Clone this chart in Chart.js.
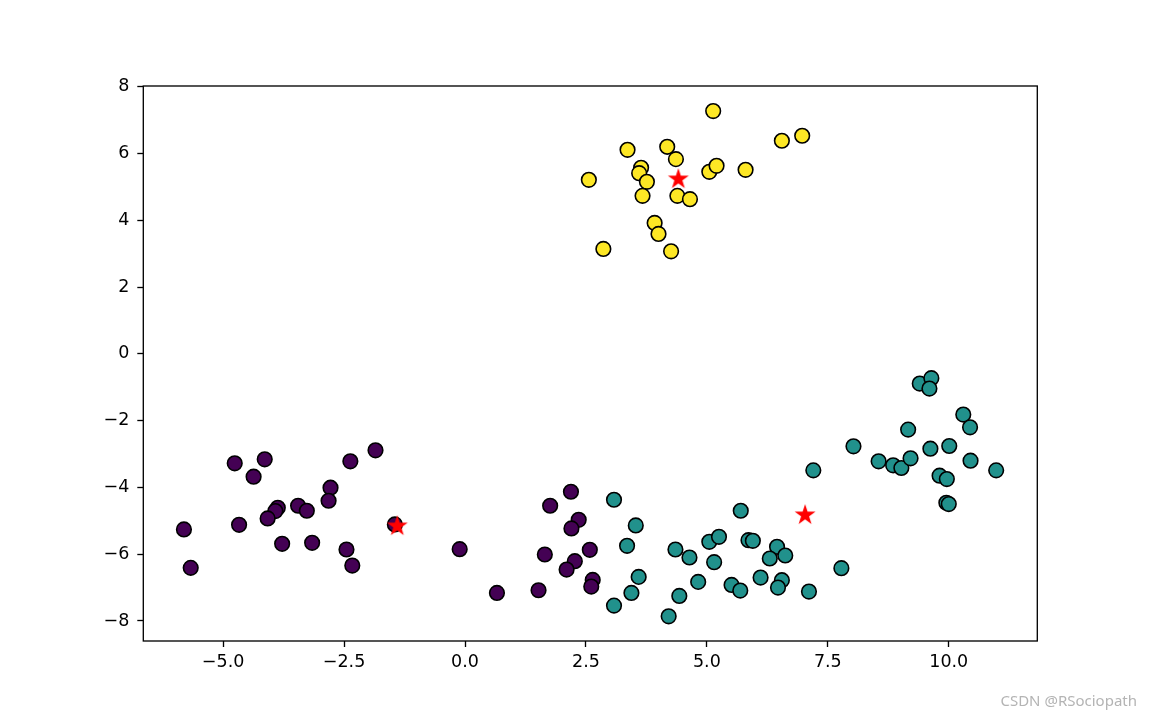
<!DOCTYPE html>
<html>
<head>
<meta charset="utf-8">
<script src="https://cdn.jsdelivr.net/npm/chart.js@4/dist/chart.umd.min.js"></script>
<style>
    html, body { margin: 0; padding: 0; background: #fff; }
    #wrap { position: relative; width: 1152px; height: 720px; }
    #mark {
        position: absolute; right: 15px; bottom: 10px;
        font-family: "Noto Sans", "DejaVu Sans", sans-serif; font-size: 15px; color: #b4b4b4;
    }
</style>
</head>
<body>
<div id="wrap">
    <canvas id="scatter-chart" width="1152" height="720"></canvas>
    <div id="mark">CSDN @RSociopath</div>
</div>
<script>
// cluster 0 (purple)
const purpleX = [-4.76, -4.14, -4.37, -1.85, -2.37, -2.78, -2.82, -3.87, -3.92, -4.08, -3.45, -3.27, -5.81, -4.67, -3.78, -3.16, -2.45,
    -2.33, -5.67, -1.45, -0.11, 0.66, 1.52, 1.76, 2.19, 2.35, 2.20, 1.65, 2.58, 2.27, 2.10, 2.64, 2.61];
const purpleY = [-3.28, -3.16, -3.68, -2.89, -3.22, -4.01, -4.40, -4.61, -4.71, -4.93, -4.55, -4.70, -5.26, -5.12, -5.69, -5.66, -5.86,
    -6.34, -6.41, -5.11, -5.85, -7.16, -7.08, -4.55, -4.13, -4.97, -5.23, -6.01, -5.87, -6.21, -6.46, -6.77, -6.97];

// cluster 1 (teal)
const tealX = [3.08, 3.53, 3.35, 3.59, 3.44, 3.08, 4.35, 4.64, 4.43, 4.21, 4.82,
    5.70, 5.05, 5.25, 5.15, 5.86, 5.95, 6.45, 6.30, 6.62, 6.11, 5.51, 5.69, 6.55, 6.47, 7.11, 7.78,
    7.20, 8.03, 8.55, 8.85, 9.02, 9.21, 9.16, 9.40, 9.64, 9.60, 9.62, 10.01, 10.30, 10.44, 10.45, 9.81, 9.96, 9.95, 10.00, 10.98];
const tealY = [-4.37, -5.14, -5.75, -6.68, -7.16, -7.54, -5.86, -6.10, -7.25, -7.86, -6.83,
    -4.70, -5.63, -5.48, -6.24, -5.58, -5.60, -5.78, -6.13, -6.04, -6.70, -6.92, -7.09, -6.78, -7.00, -7.12, -6.42,
    -3.49, -2.77, -3.22, -3.34, -3.42, -3.13, -2.27, -0.89, -0.73, -1.04, -2.84, -2.76, -1.82, -2.20, -3.20, -3.65, -3.75, -4.46, -4.50, -3.49];

// cluster 2 (yellow)
const yellowX = [5.13, 3.36, 4.18, 4.36, 6.55, 6.97, 2.56, 3.64, 3.60, 3.76, 3.67, 5.05, 5.20, 5.80, 4.39, 4.65, 3.92, 4.00, 2.86, 4.26];
const yellowY = [7.27, 6.11, 6.20, 5.83, 6.38, 6.53, 5.21, 5.57, 5.41, 5.15, 4.73, 5.45, 5.63, 5.51, 4.73, 4.63, 3.92, 3.59, 3.14, 3.07];

// cluster centres
const centerX = [-1.40, 7.03, 4.41];
const centerY = [-5.16, -4.83, 5.23];

const xTicks = [-5, -2.5, 0, 2.5, 5, 7.5, 10];
const xTickLabels = ['\u22125.0', '\u22122.5', '0.0', '2.5', '5.0', '7.5', '10.0'];
const yTicks = [-8, -6, -4, -2, 0, 2, 4, 6, 8];
const yTickLabels = ['\u22128', '\u22126', '\u22124', '\u22122', '0', '2', '4', '6', '8'];

function toPoints(xs, ys) {
    return xs.map((x, i) => ({ x: x, y: ys[i] }));
}

// filled 5-point star like matplotlib's '*' marker
function makeStar(r, color) {
    const size = Math.ceil(r * 2 + 2);
    const c = document.createElement('canvas');
    c.width = size;
    c.height = size;
    const ctx = c.getContext('2d');
    const cx = size / 2, cy = size / 2, inner = r * 0.381966;
    ctx.beginPath();
    for (let i = 0; i < 10; i++) {
        const rad = i % 2 === 0 ? r : inner;
        const a = -Math.PI / 2 + i * Math.PI / 5;
        const px = cx + rad * Math.cos(a), py = cy + rad * Math.sin(a);
        if (i === 0) ctx.moveTo(px, py); else ctx.lineTo(px, py);
    }
    ctx.closePath();
    ctx.fillStyle = color;
    ctx.fill();
    return c;
}

const frame = {
    id: 'frame',
    afterDraw(chart) {
        const a = chart.chartArea;
        const ctx = chart.ctx;
        ctx.save();
        ctx.strokeStyle = '#000';
        ctx.lineWidth = 1.33;
        ctx.strokeRect(a.left, a.top, a.right - a.left, a.bottom - a.top);
        ctx.restore();
    }
};

function dotSet(xs, ys, color) {
    return {
        data: toPoints(xs, ys),
        backgroundColor: color,
        borderColor: '#000',
        borderWidth: 1.6,
        pointRadius: 7.3,
        pointHoverRadius: 7.3,
        order: 1
    };
}

const tickFont = { family: '"DejaVu Sans", sans-serif', size: 17.5 };

new Chart(document.getElementById('scatter-chart'), {
    type: 'scatter',
    data: {
        datasets: [
            {
                data: toPoints(centerX, centerY),
                pointStyle: makeStar(11, '#ff0000'),
                order: 0
            },
            dotSet(purpleX, purpleY, '#440154'),
            dotSet(tealX, tealY, '#21918c'),
            dotSet(yellowX, yellowY, '#fde725')
        ]
    },
    options: {
        responsive: false,
        animation: false,
        layout: { padding: { left: 0, top: 86, right: 114.7, bottom: 0 } },
        plugins: { legend: { display: false }, tooltip: { enabled: false } },
        scales: {
            x: {
                type: 'linear',
                min: -6.65,
                max: 11.83,
                afterBuildTicks: s => { s.ticks = xTicks.map(v => ({ value: v })); },
                afterFit: s => { s.height = 79; },
                border: { display: false },
                grid: { drawOnChartArea: false, drawTicks: true, tickLength: 6, tickWidth: 1.33, tickColor: '#000' },
                ticks: {
                    color: '#000',
                    font: tickFont,
                    padding: 5,
                    maxRotation: 0,
                    callback: (v, i) => xTickLabels[i]
                }
            },
            y: {
                type: 'linear',
                min: -8.6,
                max: 8.02,
                afterBuildTicks: s => { s.ticks = yTicks.map(v => ({ value: v })); },
                afterFit: s => { s.width = 143.3; },
                border: { display: false },
                grid: { drawOnChartArea: false, drawTicks: true, tickLength: 6, tickWidth: 1.33, tickColor: '#000' },
                ticks: {
                    color: '#000',
                    font: tickFont,
                    padding: 8,
                    callback: (v, i) => yTickLabels[i]
                }
            }
        }
    },
    plugins: [frame]
});
</script>
</body>
</html>
